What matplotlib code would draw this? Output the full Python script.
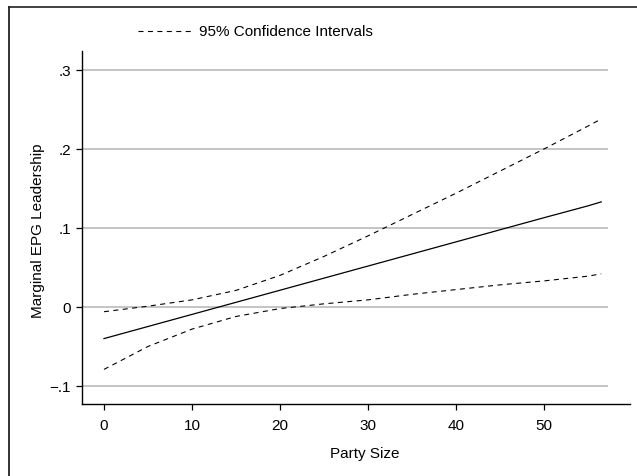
import matplotlib
matplotlib.use("Agg")
import matplotlib.pyplot as plt
from matplotlib.lines import Line2D

plt.rcParams['font.family'] = ['Liberation Sans', 'DejaVu Sans']

# Data
party_size = [0, 5, 10, 15, 20, 25, 30, 35, 40, 45, 50, 55, 56.5]
marginal = [-0.040, -0.0247, -0.0094, 0.0059, 0.0212, 0.0365, 0.0518,
            0.0671, 0.0824, 0.0977, 0.113, 0.128, 0.133]
upper_ci = [-0.006, 0.001, 0.009, 0.021, 0.040, 0.064, 0.090, 0.117,
            0.144, 0.172, 0.200, 0.229, 0.238]
lower_ci = [-0.079, -0.050, -0.028, -0.012, -0.002, 0.004, 0.009, 0.016,
            0.022, 0.028, 0.033, 0.039, 0.042]

x_ticks = [0, 10, 20, 30, 40, 50]
y_ticks = [-0.1, 0, 0.1, 0.2, 0.3]
y_tick_labels = ['\u2212.1', '0', '.1', '.2', '.3']

W, H = 637, 477
fig = plt.figure(figsize=(W / 100, H / 100), dpi=100)

# axes in pixels: left 82, right 630, top 52, bottom 405
ax = fig.add_axes([82 / W, 1 - 405 / H, (630 - 82) / W, (405 - 52) / H])
ax.set_xlim(-2.5, 59.77)
ax.set_ylim(-0.1228, 0.324)

grid_right = 57.3
for yv in y_ticks:
    ax.plot([-2.5, grid_right], [yv, yv], color='#c4c4c4', lw=1.4, zorder=1,
            solid_capstyle='butt')

dash = (0, (4.5, 4.0))
ax.plot(party_size, upper_ci, color='black', lw=0.8, linestyle=dash, zorder=3)
ax.plot(party_size, lower_ci, color='black', lw=0.8, linestyle=dash, zorder=3)
ax.plot(party_size, marginal, color='black', lw=0.9, zorder=3)

for s in ['top', 'right']:
    ax.spines[s].set_visible(False)
for s in ['left', 'bottom']:
    ax.spines[s].set_linewidth(1.0)
    ax.spines[s].set_color('black')

FS = 11
ax.set_xticks(x_ticks)
ax.set_xticklabels([str(v) for v in x_ticks])
ax.set_yticks(y_ticks)
ax.set_yticklabels(y_tick_labels)
ax.tick_params(axis='both', direction='out', length=4, width=0.9,
               labelsize=FS, colors='black')
ax.tick_params(axis='x', pad=6)
ax.tick_params(axis='y', pad=4)

fig.text(365 / W, 1 - 454 / H, 'Party Size', ha='center', va='center',
         fontsize=FS)
fig.text(38 / W, 1 - 231 / H, 'Marginal EPG Leadership', ha='center',
         va='center', rotation=90, fontsize=FS)

# legend at top
fig.add_artist(Line2D([138 / W, 192 / W], [1 - 32 / H, 1 - 32 / H],
                      color='black', lw=0.8, linestyle=dash))
fig.text(199 / W, 1 - 32 / H, '95% Confidence Intervals', ha='left',
         va='center', fontsize=FS)

# outer frame (top and left edges visible)
fig.add_artist(Line2D([9 / W, 1.0], [1 - 8 / H, 1 - 8 / H], color='#333333',
                      lw=1.3))
fig.add_artist(Line2D([9 / W, 9 / W], [1 - 8 / H, 0.0], color='#222222',
                      lw=1.3))

fig.savefig('out.png', dpi=100)
